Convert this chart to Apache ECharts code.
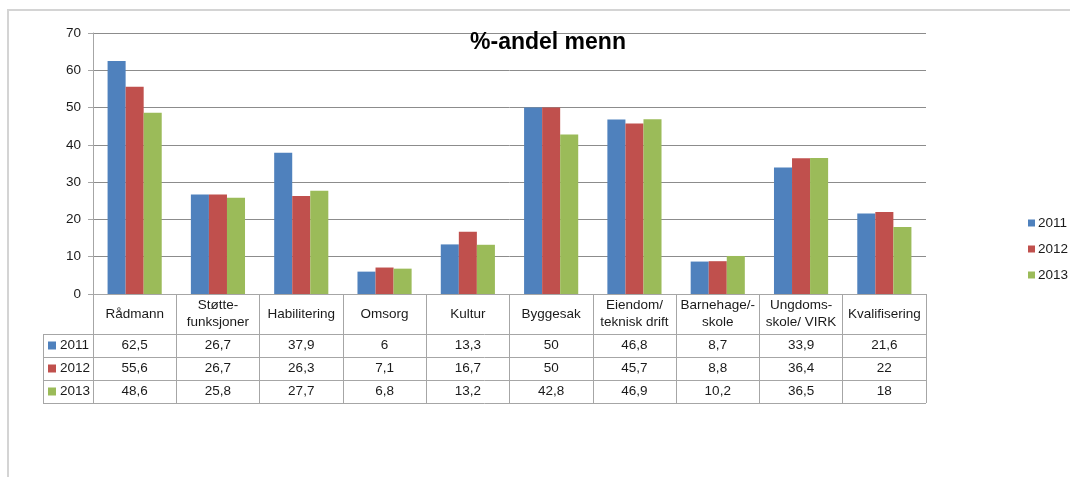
<!DOCTYPE html>
<html>
<head>
<meta charset="utf-8">
<script src="https://cdn.jsdelivr.net/npm/echarts@6/dist/echarts.min.js"></script>
<style>
	html, body { margin: 0; padding: 0; background: #fff; }
	#chart { width: 1070px; height: 477px; }
</style>
</head>
<body>
<div id="chart"></div>
<script>
	// kategorier (tabellhode)
	var categories = ['Rådmann', 'Støtte-\nfunksjoner', 'Habilitering', 'Omsorg', 'Kultur',
		'Byggesak', 'Eiendom/\nteknisk drift', 'Barnehage/-\nskole', 'Ungdoms-\nskole/ VIRK', 'Kvalifisering'];
	var years = ['2011', '2012', '2013'];
	var values2011 = [62.5, 26.7, 37.9, 6, 13.3, 50, 46.8, 8.7, 33.9, 21.6];
	var values2012 = [55.6, 26.7, 26.3, 7.1, 16.7, 50, 45.7, 8.8, 36.4, 22];
	var values2013 = [48.6, 25.8, 27.7, 6.8, 13.2, 42.8, 46.9, 10.2, 36.5, 18];
	var yTicks = [0, 70, 10]; // min, max, intervall

	var allValues = [values2011, values2012, values2013];
	var colors = ['#4F81BD', '#C0504D', '#9BBB59'];
	var font = 'Liberation Sans';
	var textColor = '#1a1a1a';
	var lineColor = '#a6a6a6';

	// plassering
	var gridLeft = 93, gridRight = 926, gridTop = 33, gridBottom = 294;
	var headerH = 40, rowH = 23, tableLeft = 43;
	var tableBottom = gridBottom + headerH + rowH * years.length;

	function fmt(v) {
		return String(v).replace('.', ',');
	}

	var xAxes = [{
		type: 'category',
		data: categories,
		position: 'bottom',
		axisLine: { lineStyle: { color: lineColor, width: 1 } },
		axisTick: { show: true, interval: 0, length: tableBottom - gridBottom, lineStyle: { color: lineColor } },
		axisLabel: {
			interval: 0, margin: headerH / 2, verticalAlign: 'middle', lineHeight: 17,
			fontFamily: font, fontSize: 13.5, color: textColor, align: 'center'
		}
	}];
	// én akse per rad i datatabellen
	allValues.forEach(function(vals, r) {
		xAxes.push({
			type: 'category',
			data: categories,
			position: 'bottom',
			offset: headerH + rowH * r + rowH / 2,
			axisLine: { show: false },
			axisTick: { show: false },
			axisLabel: {
				interval: 0, margin: 0, verticalAlign: 'middle',
				fontFamily: font, fontSize: 13.5, color: textColor,
				formatter: function(value, idx) { return fmt(vals[idx]); }
			}
		});
	});

	var series = years.map(function(y, i) {
		return {
			name: y,
			type: 'bar',
			xAxisIndex: 0,
			data: allValues[i],
			barGap: '0%',
			barCategoryGap: '35%',
			itemStyle: { color: colors[i] }
		};
	});

	// tabellinjer og venstre kolonne
	var graphics = [];
	for (var k = 0; k <= years.length; k++) {
		var yy = gridBottom + headerH + rowH * k + 0.5;
		graphics.push({
			type: 'line', silent: true,
			shape: { x1: tableLeft, y1: yy, x2: gridRight, y2: yy },
			style: { stroke: lineColor, lineWidth: 1 }
		});
	}
	graphics.push({
		type: 'line', silent: true,
		shape: { x1: tableLeft + 0.5, y1: gridBottom + headerH, x2: tableLeft + 0.5, y2: tableBottom },
		style: { stroke: lineColor, lineWidth: 1 }
	});
	years.forEach(function(y, i) {
		var cy = gridBottom + headerH + rowH * i + rowH / 2;
		graphics.push({
			type: 'rect', silent: true,
			shape: { x: tableLeft + 5, y: cy - 4, width: 8, height: 8 },
			style: { fill: colors[i] }
		});
		graphics.push({
			type: 'text', silent: true,
			x: tableLeft + 17, y: cy,
			style: { text: y, font: '13.5px "' + font + '"', fill: textColor, verticalAlign: 'middle' }
		});
	});
	// ramme rundt diagrammet
	graphics.push({
		type: 'rect', silent: true,
		shape: { x: 8, y: 10, width: 1100, height: 500 },
		style: { fill: 'none', stroke: '#d4d4d4', lineWidth: 2 }
	});

	var option = {
		backgroundColor: '#fff',
		animation: false,
		title: {
			text: '%-andel menn',
			left: 543,
			textAlign: 'center',
			top: 26,
			textStyle: { fontFamily: font, fontSize: 23, fontWeight: 'bold', color: '#000' }
		},
		legend: {
			data: years,
			orient: 'vertical',
			left: 1023,
			top: 211,
			itemWidth: 7,
			itemHeight: 7,
			itemGap: 12,
			icon: 'rect',
			textStyle: { fontFamily: font, fontSize: 13.5, color: textColor, padding: [0, 0, 0, -2] }
		},
		grid: {
			left: gridLeft,
			right: 1070 - gridRight,
			top: gridTop,
			bottom: 477 - gridBottom
		},
		xAxis: xAxes,
		yAxis: {
			type: 'value',
			min: yTicks[0],
			max: yTicks[1],
			interval: yTicks[2],
			axisLine: { show: true, lineStyle: { color: lineColor } },
			axisTick: { show: true, length: 5, lineStyle: { color: lineColor } },
			axisLabel: { margin: 12, fontFamily: font, fontSize: 13.5, color: textColor },
			splitLine: { lineStyle: { color: '#8c8c8c', width: 1 } }
		},
		series: series,
		graphic: graphics
	};

	echarts.init(document.getElementById('chart')).setOption(option);
</script>
</body>
</html>
